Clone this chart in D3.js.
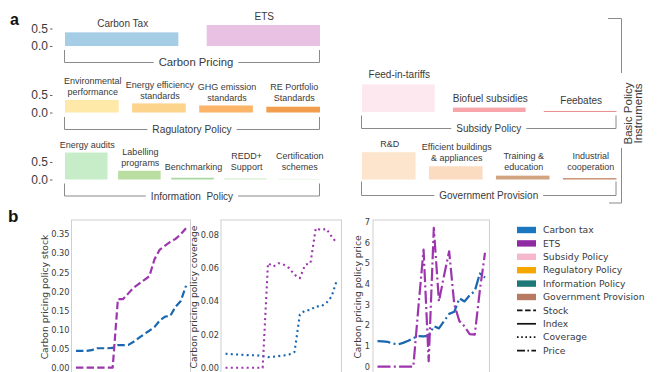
<!DOCTYPE html>
<html><head><meta charset="utf-8">
<script src="https://cdn.jsdelivr.net/npm/d3@7"></script>
<style>body{margin:0;background:#fff} svg{display:block}</style>
</head><body><svg id="c" width="661" height="372"></svg>
<script>
// ---------- Panel a data ----------
const pricingNames = ["Carbon Tax", "ETS"];
const pricingValues = [0.39, 0.60];
const regulatoryNames = ["Environmental\nperformance", "Energy efficiency\nstandards", "GHG emission\nstandards", "RE Portfolio\nStandards"];
const regulatoryValues = [0.36, 0.26, 0.20, 0.165];
const informationNames = ["Energy audits", "Labelling\nprograms", "Benchmarking", "REDD+\nSupport", "Certification\nschemes"];
const informationValues = [0.77, 0.25, 0.05, 0.03, 0.02];
const subsidyNames = ["Feed-in-tariffs", "Biofuel subsidies", "Feebates"];
const subsidyValues = [0.79, 0.125, 0.03];
const provisionNames = ["R&D", "Efficient buildings\n& appliances", "Training &\neducation", "Industrial\ncooperation"];
const provisionValues = [0.78, 0.38, 0.11, 0.04];
const groupTitles = ["Carbon Pricing", "Ragulatory Policy", "Information  Policy", "Subsidy Policy", "Government Provision"];
const barTicks = [0.0, 0.5];
const sideTitle = ["Basic Policy", "Instruments"];

// ---------- Panel b data ----------
const years = [1999,2000,2001,2002,2003,2004,2005,2006,2007,2008,2009,2010,2011,2012,2013,2014,2015,2016,2017,2018,2019,2020];
const taxStock = [0.044,0.044,0.044,0.046,0.051,0.051,0.051,0.052,0.059,0.059,0.060,0.068,0.078,0.088,0.097,0.107,0.124,0.134,0.136,0.160,0.175,0.215];
const etsStock = [0,0,0,0,0,0,0,0,0.18,0.18,0.195,0.21,0.22,0.23,0.24,0.285,0.31,0.32,0.33,0.338,0.35,0.366];
const taxCoverage = [0.0084,0.0082,0.0080,0.0078,0.0076,0.0075,0.0074,0.0070,0.0064,0.0066,0.0070,0.0074,0.0080,0.0095,0.032,0.0345,0.0348,0.037,0.037,0.039,0.043,0.053];
const etsCoverage = [0,0,0,0,0,0,0,0,0.063,0.061,0.063,0.062,0.060,0.056,0.054,0.062,0.063,0.084,0.083,0.0837,0.079,0.075];
const taxPrice = [1.23,1.22,1.20,1.12,1.07,1.15,1.25,1.38,1.48,1.46,1.50,1.95,1.85,2.20,2.55,2.65,3.30,3.15,3.45,3.65,4.50,4.30];
const etsPrice = [0,0,0,0,0,0,0,0,2.9,5.65,0.26,6.7,3.15,4.4,5.57,3.0,2.2,1.95,1.57,1.55,3.7,5.5];
const stockTicks = [0,0.05,0.10,0.15,0.20,0.25,0.30,0.35];
const coverageTicks = [0,0.02,0.04,0.06,0.08];
const priceTicks = [0,1,2,3,4,5,6,7];
const yLabels = ["Carbon pricing policy stock", "Carbon pricing policy coverage", "Carbon pricing policy price"];
const legendPatchNames = ["Carbon tax", "ETS", "Subsidy Policy", "Regulatory Policy", "Information Policy", "Government Provision"];
const legendLineNames = ["Stock", "Index", "Coverage", "Price"];

// ---------- Styles ----------
const pricingColors = ["#a5cde6", "#e9c1e3"];
const regulatoryColors = ["#fee9a8", "#fdd48b", "#fbb468", "#f29e4e"];
const informationColors = ["#c6edc8", "#badda2", "#a9d8a0", "#d0ecc7", "#e3f3df"];
const subsidyColors = ["#fde8f0", "#f8a4ab", "#e89192"];
const provisionColors = ["#fde5cd", "#fcdcc1", "#d3a480", "#c98c6c"];
const legendPatchColors = ["#1b78c0", "#8f2aa3", "#f6b8cc", "#f6a800", "#1f7878", "#b87b61"];
const lineBlue = "#1967b0", linePurple = "#9d36ae";
const sansA = "'Liberation Sans', Arial, sans-serif";
const sansB = "'DejaVu Sans', sans-serif";
const txt = "#3a3a3a";

const svg = d3.select("#c");
svg.append("rect").attr("width", 661).attr("height", 372).attr("fill", "#fff");

// ---------- Panel a ----------
svg.append("text").attr("x", 10).attr("y", 25).attr("font-family", sansA).attr("font-weight", "bold")
  .attr("font-size", 16).attr("fill", "#111").text("a");

const leftRange = [65, 320], rightRange = [362, 616.5];
const rows = [
  {names: pricingNames, values: pricingValues, colors: pricingColors, range: leftRange, y0: 46, maxBase: 999, fs: 10, pad: 5, ticks: true, title: groupTitles[0], brTop: 50, brLine: 62.5, tfs: 11.3, tdx: 4},
  {names: regulatoryNames, values: regulatoryValues, colors: regulatoryColors, range: leftRange, y0: 112.5, maxBase: 101, fs: 9, pad: 4.5, ticks: true, title: groupTitles[1], brTop: 117, brLine: 129.5, tfs: 10.2, tdx: 0},
  {names: informationNames, values: informationValues, colors: informationColors, range: leftRange, y0: 179.5, maxBase: 170, fs: 9, pad: 5, ticks: true, title: groupTitles[2], brTop: 183.5, brLine: 196, tfs: 10, tdx: 0},
  {names: subsidyNames, values: subsidyValues, colors: subsidyColors, range: rightRange, y0: 112, maxBase: 104, fs: 10, pad: 6, ticks: false, title: groupTitles[3], brTop: 115.5, brLine: 128.5, tfs: 10, tdx: 0},
  {names: provisionNames, values: provisionValues, colors: provisionColors, range: rightRange, y0: 179.5, maxBase: 170, fs: 9, pad: 5, ticks: false, title: groupTitles[4], brTop: 181.5, brLine: 195.5, tfs: 10, tdx: 0}
];

rows.forEach(r => {
  const g = svg.append("g");
  const x = d3.scaleBand().domain(r.names).range(r.range).paddingInner(0.2).paddingOuter(0);
  const y = d3.scaleLinear().domain([0, 1]).range([r.y0, r.y0 - 35]);
  g.selectAll("rect.bar").data(r.values).join("rect").attr("class", "bar")
    .attr("x", (d, i) => x(r.names[i])).attr("width", x.bandwidth())
    .attr("y", d => y(d)).attr("height", d => Math.max(y(0) - y(d), 0.8))
    .attr("fill", (d, i) => r.colors[i]);
  const lh = r.fs + 2;
  r.names.forEach((name, i) => {
    const lines = name.split("\n");
    const base = Math.min(y(r.values[i]) - r.pad, r.maxBase);
    const t = g.append("text").attr("font-family", sansA).attr("font-size", r.fs).attr("fill", txt)
      .attr("text-anchor", "middle");
    lines.forEach((ln, k) => {
      t.append("tspan").attr("x", x(name) + x.bandwidth() / 2 + 1)
        .attr("y", base - (lines.length - 1 - k) * lh).text(ln);
    });
  });
  if (r.ticks) {
    const ax = g.append("g").attr("transform", "translate(52.5,0)")
      .call(d3.axisLeft(y).tickValues(barTicks).tickSize(2.5).tickPadding(2).tickFormat(d3.format(".1f")));
    ax.select(".domain").remove();
    ax.selectAll("line").attr("stroke", "#666");
    ax.selectAll("text").attr("font-family", sansA).attr("font-size", 12).attr("fill", txt);
  }
  // bracket
  const x1 = r.range[0] - 0.5, x2 = r.range[1] - 0.5;
  const cx = (x1 + x2) / 2 + r.tdx;
  const tt = g.append("text").attr("x", cx).attr("y", r.brLine).attr("dy", "0.35em")
    .attr("text-anchor", "middle").attr("font-family", sansA).attr("font-size", r.tfs)
    .attr("fill", txt).style("white-space", "pre").text(r.title);
  const tw = tt.node().getComputedTextLength();
  g.append("path").attr("fill", "none").attr("stroke", "#8a8a8a").attr("stroke-width", 1)
    .attr("d", `M${x1},${r.brTop}V${r.brLine}H${cx - tw / 2 - 5}M${cx + tw / 2 + 5},${r.brLine}H${x2}V${r.brTop}`);
});

// big side bracket
svg.append("path").attr("fill", "none").attr("stroke", "#8a8a8a").attr("stroke-width", 1)
  .attr("d", "M608,18.5H621.5V73M621.5,148V203H609");
const side = svg.append("text").attr("font-family", sansA).attr("font-size", 11.5).attr("fill", txt)
  .attr("text-anchor", "middle").attr("transform", "translate(631.5,113.5) rotate(-90)");
sideTitle.forEach((s, k) => side.append("tspan").attr("x", 0).attr("y", k * 10.3).text(s));

// ---------- Panel b ----------
svg.append("text").attr("x", 8).attr("y", 221.5).attr("font-family", sansA).attr("font-weight", "bold")
  .attr("font-size", 17).attr("fill", "#111").text("b");

const subs = [
  {left: 71.5, right: 190.5, y0: 367.7, yTop: 234.3, dom: [0, 0.35], ticks: stockTicks, fmt: d3.format(".2f"), pad: 2,
   label: yLabels[0], lx: 45, series: [taxStock, etsStock], dash: "7.4 3.2", lw: 2.2},
  {left: 221, right: 341.5, y0: 367.7, yTop: 235, dom: [0, 0.08], ticks: coverageTicks, fmt: d3.format(".2f"), pad: 2,
   label: yLabels[1], lx: 193.5, series: [taxCoverage, etsCoverage], dash: "2 3.3", lw: 2.1},
  {left: 373, right: 489.5, y0: 366.7, yTop: 221.7, dom: [0, 7], ticks: priceTicks, fmt: d3.format("d"), pad: 3,
   label: yLabels[2], lx: 357.5, series: [taxPrice, etsPrice], dash: "13 3.3 2 3.3", lw: 2.2}
];

subs.forEach(s => {
  const g = svg.append("g");
  g.append("rect").attr("x", s.left).attr("y", 220).attr("width", s.right - s.left).attr("height", 170)
    .attr("fill", "#fff").attr("stroke", "#cfcfcf").attr("stroke-width", 1);
  const x = d3.scaleLinear().domain([years[0], years[years.length - 1]]).range([s.left + 4.5, s.right - 4.5]);
  const y = d3.scaleLinear().domain(s.dom).range([s.y0, s.yTop]);
  const ax = g.append("g").attr("transform", `translate(${s.left},0)`)
    .call(d3.axisLeft(y).tickValues(s.ticks).tickSize(0).tickPadding(s.pad).tickFormat(s.fmt));
  ax.select(".domain").remove();
  ax.selectAll("text").attr("font-family", sansB).attr("font-size", 8.2).attr("fill", txt);
  g.append("text").attr("transform", `translate(${s.lx},${297}) rotate(-90)`).attr("text-anchor", "middle")
    .attr("dy", "0.35em").attr("font-family", sansB).attr("font-size", 9.2).attr("fill", txt).text(s.label);
  const line = d3.line().x((d, i) => x(years[i])).y(d => y(d));
  const cols = [lineBlue, linePurple];
  [0, 1].forEach(k => {
    g.append("path").datum(s.series[k]).attr("d", line).attr("fill", "none")
      .attr("stroke", cols[k]).attr("stroke-width", s.lw).attr("stroke-dasharray", s.dash)
      .attr("stroke-linecap", "butt").attr("stroke-linejoin", "round");
  });
});

// legend
const lg = svg.append("g");
const ly0 = 230, lstep = 13.4;
legendPatchNames.forEach((n, i) => {
  lg.append("rect").attr("x", 517).attr("y", ly0 + i * lstep - 3.2).attr("width", 19).attr("height", 6.4)
    .attr("fill", legendPatchColors[i]);
  lg.append("text").attr("x", 543).attr("y", ly0 + i * lstep).attr("dy", "0.35em")
    .attr("font-family", sansB).attr("font-size", 9.2).attr("fill", txt).text(n);
});
const lineDashes = ["5.5 2.6", null, "1.6 2.6", "8 2.4 1.6 2.4"];
legendLineNames.forEach((n, j) => {
  const i = j + legendPatchNames.length;
  const yy = ly0 + i * lstep;
  const p = lg.append("line").attr("x1", 517).attr("x2", 536).attr("y1", yy).attr("y2", yy)
    .attr("stroke", "#111").attr("stroke-width", 1.7);
  if (lineDashes[j]) p.attr("stroke-dasharray", lineDashes[j]);
  lg.append("text").attr("x", 543).attr("y", yy).attr("dy", "0.35em")
    .attr("font-family", sansB).attr("font-size", 9.2).attr("fill", txt).text(n);
});
</script></body></html>
